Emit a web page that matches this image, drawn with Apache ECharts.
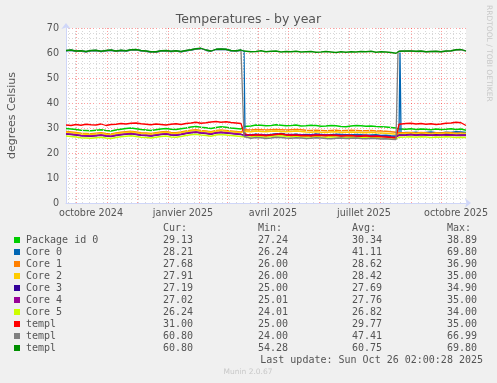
<!DOCTYPE html>
<html><head><meta charset="utf-8">
<script src="https://cdn.jsdelivr.net/npm/echarts@6/dist/echarts.min.js"></script>
<style>html,body{margin:0;padding:0;background:#F0F0F0;}#c{width:497px;height:383px;}</style>
</head><body><div id="c"></div><script>
// ---- data ----
const DAY = 86400000;
const START = Date.UTC(2024, 8, 21);
const END = START + 400 * DAY;
// day offsets from START of each sample
const days = [0,5,10,15,20,25,30,35,40,45,50,55,60,65,70,75,80,85,90,95,100,105,110,115,120,125,130,135,140,145,150,155,160,165,170,175,
  177,178,179,
  180,185,190,195,200,205,210,215,220,225,230,235,240,245,250,255,260,265,270,275,280,285,290,295,300,305,310,315,320,325,330,
  331,332,333,334,
  335,340,345,350,355,360,365,370,375,380,385,390,395,400];

const names = ['Package id 0','Core 0','Core 1','Core 2','Core 3','Core 4','Core 5','templ','templ','templ'];
const colors = ['#00CC00','#0066B3','#FF8000','#FFCC00','#330099','#990099','#CCFF00','#FF0000','#808080','#008F00'];

const packageId0 = [29.8,29.6,29.4,29.1,29.0,28.9,29.1,29.3,29.0,28.8,29.2,29.5,29.8,30.0,29.7,29.4,29.2,29.0,29.3,29.6,29.8,29.5,29.4,29.7,30.0,30.4,30.6,30.3,30.1,29.8,30.2,30.5,30.3,30.0,29.8,29.6,
  29.8,30.6,30.9,
  31.0,30.8,31.2,31.1,30.9,31.0,31.3,31.1,30.9,31.0,31.2,30.8,30.9,31.1,31.0,30.7,30.8,31.0,30.9,30.6,30.5,30.8,31.0,30.9,30.7,30.8,30.6,30.5,30.4,30.2,30.0,
  30.0,29.9,29.6,29.7,
  29.6,29.5,29.7,29.4,29.6,29.5,29.3,29.6,29.4,29.5,29.7,29.4,29.6,29.1];
const core0 = [60.9,61.1,60.7,60.8,60.5,60.9,61.0,60.6,60.9,61.1,60.7,61.0,60.8,61.2,61.3,60.9,60.7,60.4,60.4,60.8,60.9,60.6,60.8,60.5,60.9,61.2,61.6,61.8,61.1,60.7,61.4,61.5,61.4,60.9,60.8,61.1,
  60.9,60.7,27.4,
  27.4,27.2,27.5,27.3,27.1,27.4,27.6,27.8,27.5,27.3,27.5,27.2,27.4,27.3,27.6,27.4,27.2,27.3,27.5,27.4,27.3,27.2,27.4,27.3,27.1,27.2,27.3,27.0,27.1,26.9,26.8,
  26.8,27.6,27.8,60.2,
  28.0,28.2,28.1,28.3,28.0,28.2,28.4,28.1,28.0,28.3,28.2,28.5,28.4,28.2];
const core1 = [28.6,28.4,28.2,27.9,27.8,27.7,27.9,28.1,27.8,27.6,28.0,28.3,28.5,28.7,28.4,28.1,28.0,27.8,28.1,28.4,28.6,28.2,28.1,28.4,28.8,29.1,29.3,29.0,28.8,28.5,29.0,29.2,29.0,28.8,28.6,28.4,
  28.5,29.3,29.4,
  29.3,29.2,29.4,29.3,29.2,29.3,29.4,29.3,29.2,29.3,29.4,29.3,29.1,29.0,29.1,29.0,28.9,29.0,29.1,28.9,29.0,29.1,29.0,28.9,28.9,29.0,28.8,28.8,28.7,28.5,28.3,
  28.2,28.0,28.1,28.2,
  28.3,28.1,28.2,28.0,28.2,28.1,27.9,28.1,28.0,28.2,28.1,27.9,28.0,27.7];
const core2 = [28.3,28.1,27.9,27.6,27.5,27.4,27.6,27.8,27.5,27.3,27.7,28.0,28.2,28.4,28.1,27.8,27.7,27.5,27.8,28.1,28.3,27.9,27.8,28.1,28.5,28.8,29.0,28.7,28.5,28.2,28.7,28.9,28.7,28.5,28.3,28.1,
  28.2,28.6,28.7,
  28.7,28.5,28.8,28.6,28.5,28.7,28.8,28.6,28.5,28.6,28.8,28.6,28.4,28.3,28.5,28.3,28.2,28.4,28.5,28.2,28.3,28.4,28.3,28.2,28.1,28.3,28.1,28.0,27.9,27.7,27.5,
  27.5,27.4,27.6,27.8,
  28.0,27.8,27.9,27.7,27.9,27.8,27.6,27.8,27.7,27.9,27.8,27.6,27.7,27.9];
const core3 = [27.6,27.4,27.2,26.9,26.8,26.7,26.9,27.1,26.8,26.6,27.0,27.3,27.5,27.7,27.4,27.1,27.0,26.8,27.1,27.4,27.6,27.2,27.1,27.4,27.8,28.1,28.3,28.0,27.8,27.5,28.0,28.2,28.0,27.8,27.6,27.4,
  27.4,27.2,27.3,
  27.3,27.1,27.4,27.2,27.0,27.3,27.5,27.6,27.3,27.1,27.4,27.1,27.2,27.0,27.3,27.1,27.0,27.2,27.1,26.9,27.0,27.1,26.9,26.8,27.0,26.8,26.9,26.7,26.6,26.4,26.3,
  26.3,26.6,27.2,27.4,
  27.5,27.3,27.4,27.2,27.4,27.3,27.1,27.3,27.2,27.4,27.3,27.1,27.2,27.2];
const core4 = [27.7,27.5,27.3,27.0,26.9,26.8,27.0,27.2,26.9,26.7,27.1,27.4,27.6,27.8,27.5,27.2,27.1,26.9,27.2,27.5,27.7,27.3,27.2,27.5,27.9,28.2,28.4,28.1,27.9,27.6,28.1,28.3,28.1,27.9,27.7,27.5,
  27.5,27.0,27.1,
  27.1,27.3,27.0,27.4,27.2,27.1,27.5,27.3,27.2,27.4,27.1,27.3,27.0,27.2,27.4,27.1,27.3,26.9,27.2,27.0,27.1,26.8,27.0,26.9,27.1,26.8,26.9,26.7,26.6,26.4,26.3,
  26.2,26.5,27.0,27.2,
  27.3,27.1,27.4,27.0,27.3,27.1,27.2,27.0,27.3,27.1,27.2,27.0,27.1,27.0];
const core5 = [26.8,26.6,26.4,26.1,26.0,25.9,26.1,26.3,26.0,25.8,26.2,26.5,26.7,26.9,26.6,26.3,26.2,26.0,26.3,26.6,26.8,26.4,26.3,26.6,27.0,27.3,27.5,27.2,27.0,26.7,27.2,27.4,27.2,27.0,26.8,26.6,
  26.6,26.5,26.6,
  26.6,26.4,26.7,26.5,26.3,26.6,26.8,26.9,26.6,26.4,26.7,26.4,26.5,26.3,26.6,26.4,26.3,26.5,26.4,26.2,26.3,26.4,26.2,26.1,26.3,26.1,26.2,26.0,25.9,25.7,25.6,
  25.6,25.8,26.3,26.5,
  26.6,26.4,26.5,26.3,26.5,26.4,26.2,26.4,26.3,26.5,26.4,26.2,26.3,26.2];
const templRed = [31.2,31.0,31.4,31.1,31.5,31.3,31.2,31.6,31.0,31.4,31.5,31.8,31.6,31.9,32.0,31.7,31.5,31.3,31.6,31.4,31.2,31.5,31.7,31.4,31.8,32.0,32.3,31.9,32.1,32.4,32.6,32.3,32.5,32.2,32.0,31.8,
  31.6,27.8,27.3,
  27.2,27.0,27.3,27.1,26.9,27.2,27.4,27.6,27.3,27.0,27.2,26.9,27.0,26.8,27.1,27.0,26.9,27.1,27.0,26.8,26.9,27.0,26.8,26.7,26.9,26.6,26.7,26.5,26.4,26.2,26.0,
  26.0,26.5,31.5,32.0,
  32.1,31.8,31.9,31.6,31.8,31.5,31.7,31.4,31.6,31.9,32.0,32.3,32.1,31.0];
const templGray = [60.9,61.1,60.7,60.8,60.5,60.9,61.0,60.6,60.9,61.1,60.7,61.0,60.8,61.2,61.3,60.9,60.7,60.4,60.4,60.8,60.9,60.6,60.8,60.5,60.9,61.2,61.6,61.8,61.1,60.7,61.4,61.5,61.4,60.9,60.8,61.1,
  60.9,26.6,26.3,
  26.0,25.9,26.2,26.1,25.8,26.0,26.3,26.2,26.0,25.9,26.1,26.0,25.8,25.9,26.1,26.0,25.8,25.7,25.9,26.0,25.8,25.9,26.0,25.8,25.7,25.9,25.8,25.6,25.7,25.5,25.4,
  25.3,60.5,60.7,60.6,
  60.8,60.7,60.8,60.6,60.7,60.5,60.6,60.6,60.5,60.7,60.8,61.2,61.3,60.8];
const templGreen = [61.0,61.2,60.8,60.9,60.6,61.0,61.1,60.7,61.0,61.2,60.8,61.1,60.9,61.3,61.4,61.0,60.8,60.5,60.5,60.9,61.0,60.7,60.9,60.6,61.0,61.3,61.7,61.9,61.2,60.8,61.5,61.6,61.5,61.0,60.9,61.2,
  61.0,60.8,60.4,
  60.3,60.5,60.6,60.9,60.5,60.7,60.8,60.4,60.6,60.5,60.7,60.4,60.5,60.6,60.3,60.4,60.6,60.4,60.2,60.5,60.3,60.5,60.4,60.6,60.5,60.7,60.3,60.5,60.4,60.2,59.9,
  59.8,60.0,60.7,60.6,
  60.9,60.8,60.8,60.7,60.8,60.5,60.6,60.7,60.5,60.8,60.9,61.3,61.4,60.8];
const seriesValues = [packageId0, core0, core1, core2, core3, core4, core5, templRed, templGray, templGreen];

const curV = ['29.13','28.21','27.68','27.91','27.19','27.02','26.24','31.00','60.80','60.80'];
const minV = ['27.24','26.24','26.00','26.00','25.00','25.01','24.01','25.00','24.00','54.28'];
const avgV = ['30.34','41.11','28.62','28.42','27.69','27.76','26.82','29.77','47.41','60.75'];
const maxV = ['38.89','69.80','36.90','35.00','34.90','35.00','34.00','35.00','66.99','69.80'];

const monthStarts = ['2024-10-01','2024-11-01','2024-12-01','2025-01-01','2025-02-01','2025-03-01','2025-04-01','2025-05-01','2025-06-01','2025-07-01','2025-08-01','2025-09-01','2025-10-01'];
const firstMonday = '2024-09-23';
const labelDates = ['2024-10-16','2025-01-16','2025-04-16','2025-07-16','2025-10-16'];
const labelTexts = ['octobre 2024','janvier 2025','avril 2025','juillet 2025','octobre 2025'];
const yTicks = [0,10,20,30,40,50,60,70];

// ---- chart ----
const toT = s => Date.parse(s + 'T00:00:00Z');
const labelTimes = labelDates.map(toT);
const monthTimes = monthStarts.map(toT);
const weekTimes = [];
for (let t = toT(firstMonday); t < END; t += 7 * DAY) {
  if (monthTimes.indexOf(t) < 0) weekTimes.push(t);
}
const chart = echarts.init(document.getElementById('c'), null, {renderer: 'canvas'});
const FONT = 'DejaVu Sans';
const MONO = 'DejaVu Sans Mono';
const TXT = '#555555';

const series = [{
  type: 'line', data: [[START, null]], symbol: 'none', silent: true, z: 1,
  markLine: {
    silent: true, symbol: 'none', label: {show: false},
    lineStyle: {color: '#d8d8d8', type: [1, 2], width: 1},
    emphasis: {disabled: true},
    data: weekTimes.map(t => ({xAxis: t}))
  }
}, {
  type: 'line', data: [[START, null]], symbol: 'none', silent: true, z: 1,
  markLine: {
    silent: true, symbol: 'none', label: {show: false},
    lineStyle: {color: 'rgba(255,0,0,0.38)', type: [1, 2], width: 1},
    emphasis: {disabled: true},
    data: monthTimes.map(t => ({xAxis: t}))
  }
}];
seriesValues.forEach((vals, k) => {
  series.push({
    name: names[k] + k, type: 'line', symbol: 'none', z: 2 + k,
    lineStyle: {color: colors[k], width: 1.3},
    itemStyle: {color: colors[k]},
    emphasis: {disabled: true},
    data: days.map((d, i) => [START + d * DAY, vals[i]])
  });
});

const graphic = [];
graphic.push({type: 'text', x: 248.5, y: 19.5, style: {text: 'Temperatures - by year', font: '12.5px "' + FONT + '"', fill: TXT, textAlign: 'center', textVerticalAlign: 'middle'}});
graphic.push({type: 'text', x: 488.5, y: 5, rotation: -Math.PI / 2, style: {text: 'RRDTOOL / TOBI OETIKER', font: '7.5px "' + FONT + '"', fill: '#c8c8c8', textAlign: 'left', textVerticalAlign: 'middle'}});
const colX = [163, 258, 352, 447];
['Cur:', 'Min:', 'Avg:', 'Max:'].forEach((h, j) => {
  graphic.push({type: 'text', x: colX[j], y: 228, style: {text: h, font: '10px "' + MONO + '"', fill: TXT, textVerticalAlign: 'middle'}});
});
names.forEach((n, k) => {
  const y = 240 + k * 12;
  graphic.push({type: 'rect', shape: {x: 14, y: y - 3, width: 6, height: 6}, style: {fill: colors[k]}});
  graphic.push({type: 'text', x: 26, y: y, style: {text: n, font: '10px "' + MONO + '"', fill: TXT, textVerticalAlign: 'middle'}});
  [curV, minV, avgV, maxV].forEach((arr, j) => {
    graphic.push({type: 'text', x: colX[j], y: y, style: {text: arr[k], font: '10px "' + MONO + '"', fill: TXT, textVerticalAlign: 'middle'}});
  });
});
graphic.push({type: 'text', x: 483, y: 360, style: {text: 'Last update: Sun Oct 26 02:00:28 2025', font: '10px "' + MONO + '"', fill: TXT, textAlign: 'right', textVerticalAlign: 'middle'}});
graphic.push({type: 'text', x: 248, y: 372, style: {text: 'Munin 2.0.67', font: '7.5px "' + FONT + '"', fill: '#c8c8c8', textAlign: 'center', textVerticalAlign: 'middle'}});

chart.setOption({
  backgroundColor: '#F0F0F0',
  animation: false,
  grid: {left: 66, top: 28, width: 400, height: 175, show: true, backgroundColor: '#FFFFFF', borderWidth: 0, containLabel: false, outerBoundsMode: 'none'},
  xAxis: {
    type: 'value', min: START, max: END,
    axisLine: {show: true, lineStyle: {color: '#CFD6F8', width: 1}, symbol: ['none', 'arrow'], symbolSize: [7, 6], symbolOffset: [0, 5]},
    axisTick: {show: false},
    splitLine: {show: false},
    axisLabel: {
      customValues: labelTimes, margin: 5, color: TXT, fontFamily: FONT, fontSize: 9.6,
      formatter: v => { const i = labelTimes.indexOf(v); return i >= 0 ? labelTexts[i] : ''; }
    }
  },
  yAxis: {
    type: 'value', min: 0, max: 70, interval: 10,
    name: 'degrees Celsius', nameLocation: 'middle', nameGap: 48, nameRotate: 90,
    nameTextStyle: {color: TXT, fontFamily: FONT, fontSize: 11},
    axisLine: {show: true, lineStyle: {color: '#CFD6F8', width: 1}, symbol: ['none', 'arrow'], symbolSize: [7, 6], symbolOffset: [0, 5]},
    axisTick: {show: false},
    axisLabel: {color: TXT, fontFamily: FONT, fontSize: 9.6, margin: 7, formatter: v => yTicks.indexOf(v) >= 0 ? String(v) : ''},
    splitLine: {show: true, lineStyle: {color: 'rgba(255,0,0,0.38)', type: [1, 2], width: 1}},
    minorTick: {show: false, splitNumber: 5},
    minorSplitLine: {show: true, lineStyle: {color: '#d8d8d8', type: [1, 2], width: 1}}
  },
  series: series,
  graphic: graphic
});
</script></body></html>
